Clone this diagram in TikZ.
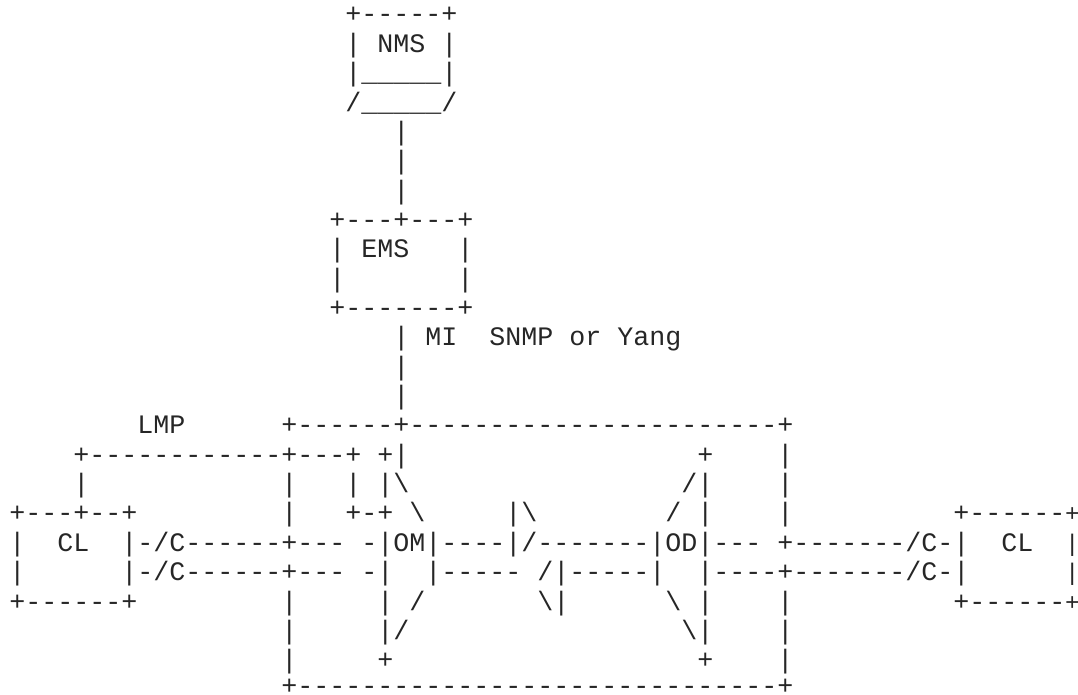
\documentclass[tikz,border=0pt]{standalone}
\usepackage{fontspec}
\newfontfamily\asciifont{Liberation Mono}
\tikzset{asciitext/.style={inner sep=0pt,outer sep=0pt,anchor=base west,text=black!85,font=\asciifont\fontsize{26.67pt}{29.3pt}\selectfont}}
\newcommand{\seg}[4]{\node[asciitext] (#1) at ({9.3pt+16pt*#3},{-23pt-29.35pt*#2}) {#4};}
\newcommand{\segend}[3]{\node[asciitext] (#1) at ({1067.3pt},{-23pt-29.35pt*#2}) {\fontsize{24pt}{29.3pt}\selectfont\makebox[10pt][c]{#3}};}
\newcommand{\bsl}{\textbackslash{}}
\begin{document}
\begin{tikzpicture}
\useasboundingbox (0,0) rectangle (1078pt,-695pt);
% NMS
\seg{nmsA}{0}{21}{+-----+}
\seg{nmsB}{1}{21}{|~NMS~|}
\seg{nmsC}{2}{21}{|\_\_\_\_\_|}
\seg{nmsD}{3}{21}{/\_\_\_\_\_/}
\seg{linkA}{4}{24}{|}
\seg{linkB}{5}{24}{|}
\seg{linkC}{6}{24}{|}
% EMS
\seg{emsA}{7}{20}{+---+---+}
\seg{emsB}{8}{20}{|~EMS~~~|}
\seg{emsC}{9}{20}{|~~~~~~~|}
\seg{emsD}{10}{20}{+-------+}
\seg{miA}{11}{24}{|~MI~~SNMP~or~Yang}
\seg{miB}{12}{24}{|}
\seg{miC}{13}{24}{|}
% row 14
\seg{lmp}{14}{8}{LMP}
\seg{frameTop}{14}{17}{+------+-----------------------+}
% row 15
\seg{aA}{15}{4}{+------------+---+~+|}
\seg{aB}{15}{43}{+}
\seg{aC}{15}{48}{|}
% row 16
\seg{bA}{16}{4}{|}
\seg{bB}{16}{17}{|}
\seg{bC}{16}{21}{|}
\seg{bD}{16}{23}{|\bsl}
\seg{bE}{16}{42}{/|}
\seg{bF}{16}{48}{|}
% row 17
\seg{cA}{17}{0}{+---+--+}
\seg{cB}{17}{17}{|}
\seg{cC}{17}{21}{+-+}
\seg{cD}{17}{25}{\bsl}
\seg{cE}{17}{31}{|\bsl}
\seg{cF}{17}{41}{/}
\seg{cG}{17}{43}{|}
\seg{cH}{17}{48}{|}
\seg{cI}{17}{59}{+------}
\segend{cJ}{17}{+}
% row 18
\seg{dA}{18}{0}{|}
\seg{dB}{18}{3}{CL}
\seg{dC}{18}{7}{|-/C------+---}
\seg{dD}{18}{22}{-|OM|----|/-------|OD|---}
\seg{dE}{18}{48}{+-------/C-|}
\seg{dF}{18}{62}{CL}
\segend{dG}{18}{|}
% row 19
\seg{eA}{19}{0}{|}
\seg{eB}{19}{7}{|-/C------+---}
\seg{eC}{19}{22}{-|~~|-----}
\seg{eD}{19}{33}{/|-----|~~|----+-------/C-|}
\segend{eE}{19}{|}
% row 20
\seg{fA}{20}{0}{+------+}
\seg{fB}{20}{17}{|}
\seg{fC}{20}{23}{|}
\seg{fD}{20}{25}{/}
\seg{fE}{20}{33}{\bsl|}
\seg{fF}{20}{41}{\bsl}
\seg{fG}{20}{43}{|}
\seg{fH}{20}{48}{|}
\seg{fI}{20}{59}{+------}
\segend{fJ}{20}{+}
% row 21
\seg{gA}{21}{17}{|}
\seg{gB}{21}{23}{|/}
\seg{gC}{21}{42}{\bsl|}
\seg{gD}{21}{48}{|}
% row 22
\seg{hA}{22}{17}{|}
\seg{hB}{22}{23}{+}
\seg{hC}{22}{43}{+}
\seg{hD}{22}{48}{|}
% row 23: baseline kept on the page
\node[asciitext] (frameBottom) at ({9.3pt+16pt*17},-694.5pt) {+------------------------------+};
\end{tikzpicture}
\end{document}
